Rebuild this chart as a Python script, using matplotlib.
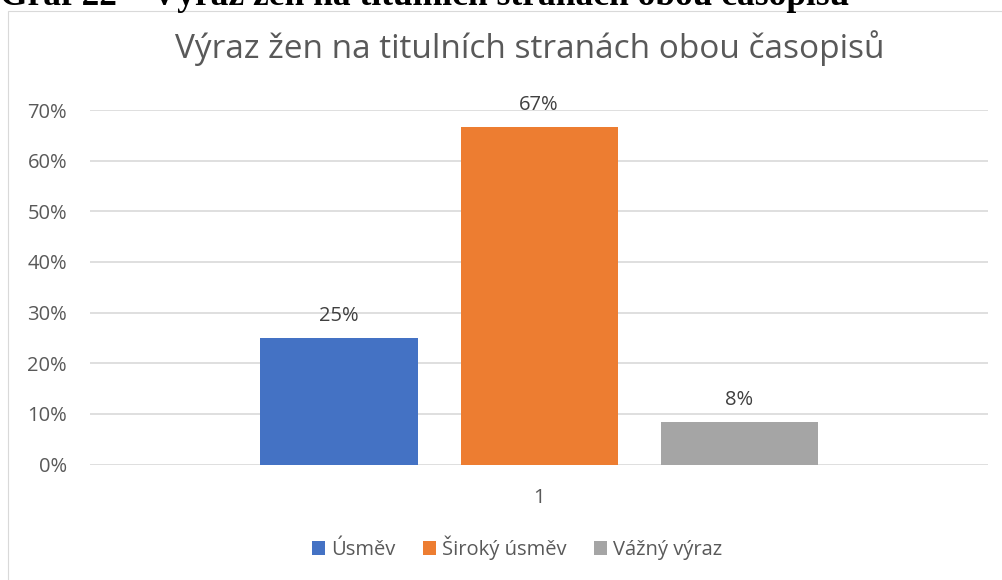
import matplotlib
matplotlib.use("Agg")
import matplotlib.pyplot as plt
from matplotlib.patches import Rectangle, Patch
from matplotlib.ticker import PercentFormatter

categories = ["1"]
series_names = ["Úsměv", "Široký úsměv", "Vážný výraz"]
series_values = [0.25, 0.6667, 0.0833]
value_labels = ["25%", "67%", "8%"]
colors = ["#4472C4", "#ED7D31", "#A5A5A5"]
chart_title = "Výraz žen na titulních stranách obou časopisů"
header = "Graf 22 – Výraz žen na titulních stranách obou časopisů"

W, H = 1002, 580
fig = plt.figure(figsize=(W / 100, H / 100), dpi=100)
fig.patch.set_facecolor("white")
font = "Open Sans"
txt = "#595959"

# outer chart frame
fig.add_artist(Rectangle((8 / W, -0.05), 1.1, 1 - 11 / H + 0.05, transform=fig.transFigure,
                         fill=False, edgecolor="#D9D9D9", linewidth=0.8))
fig.text(0.0, 1 - 5 / H, header, family="Liberation Serif", fontweight="bold",
         fontsize=25.5, va="baseline", ha="left", color="black")

ax = fig.add_axes([90 / W, 1 - 464.5 / H, (988 - 90) / W, (464.5 - 110) / H])
bw = 157 / 898
step = 200 / 898
for i, (name, v, c, lab) in enumerate(zip(series_names, series_values, colors, value_labels)):
    x = (i - 1) * step
    ax.bar(x, v, width=bw, color=c, label=name, zorder=3)
    ax.annotate(lab, (x, v), xytext=(0, 12.2), textcoords="offset points",
                ha="center", va="baseline", fontsize=14.5, color="#404040", family=font)

ax.set_xlim(-0.5, 0.5)
ax.set_ylim(0, 0.7)
ax.set_yticks([i / 10 for i in range(8)])
ax.yaxis.set_major_formatter(PercentFormatter(1.0, decimals=0))
ax.set_xticks([0])
ax.set_xticklabels(categories)
ax.grid(axis="y", color="#D9D9D9", linewidth=1.2, zorder=0)
for s in ax.spines.values():
    s.set_visible(False)
ax.tick_params(axis="both", length=0, labelsize=14.5, labelcolor=txt)
ax.tick_params(axis="y", pad=16.5)
ax.tick_params(axis="x", pad=17)
for t in ax.get_xticklabels() + ax.get_yticklabels():
    t.set_family(font)

fig.text(530 / W, 1 - 58 / H, chart_title, ha="center", va="baseline", fontsize=24,
         color=txt, family=font)

handles = [Patch(facecolor=c, edgecolor="none") for c in colors]
leg = fig.legend(handles, series_names, loc="center", bbox_to_anchor=(517 / W, 1 - 548 / H),
                 ncol=3, frameon=False, handlelength=0.65, handleheight=0.65,
                 handletextpad=0.3, columnspacing=1.35,
                 prop={"family": font, "size": 14.5})
for t in leg.get_texts():
    t.set_color(txt)

fig.savefig("out.png", dpi=100, facecolor="white")
